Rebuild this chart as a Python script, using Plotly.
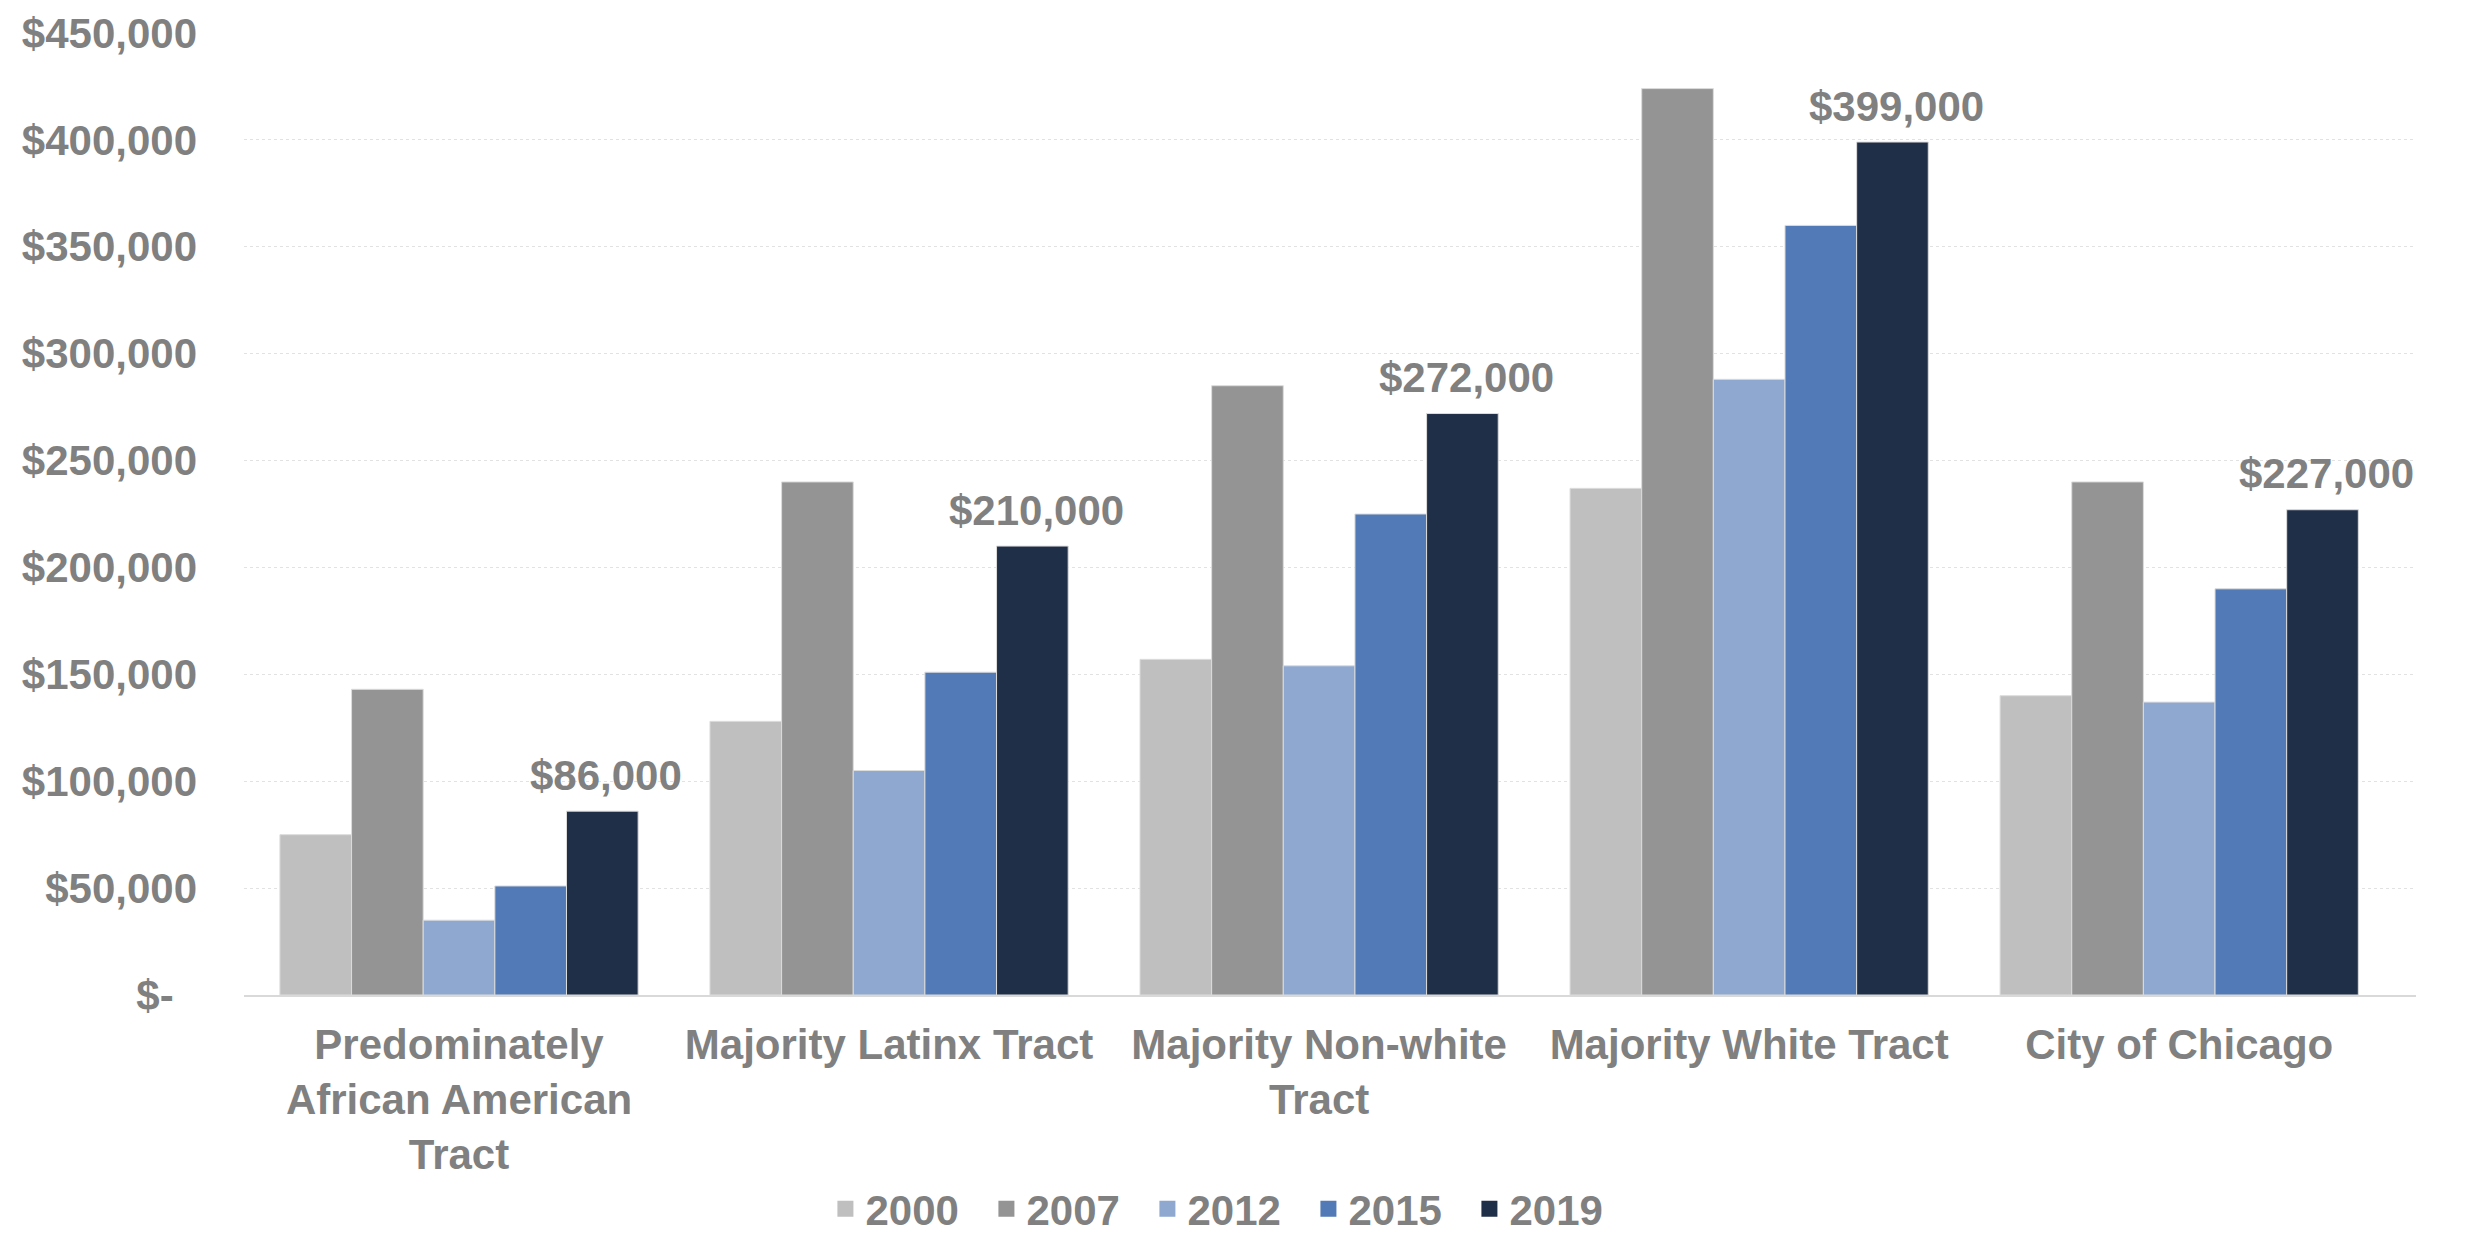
import plotly.graph_objects as go

# Median home values by tract type and year (USD)
categories = [
    "Predominately<br>African American<br>Tract",
    "Majority Latinx Tract",
    "Majority Non-white<br>Tract",
    "Majority White Tract",
    "City of Chicago",
]
years = ["2000", "2007", "2012", "2015", "2019"]
values_2000 = [75000, 128000, 157000, 237000, 140000]
values_2007 = [143000, 240000, 285000, 424000, 240000]
values_2012 = [35000, 105000, 154000, 288000, 137000]
values_2015 = [51000, 151000, 225000, 360000, 190000]
values_2019 = [86000, 210000, 272000, 399000, 227000]
series = [values_2000, values_2007, values_2012, values_2015, values_2019]
colors = ["#BFBFBF", "#949494", "#8EA8D0", "#527AB6", "#202F48"]

y_tickvals = [0, 50000, 100000, 150000, 200000, 250000, 300000, 350000, 400000, 450000]
y_ticktext = ["$-\u00a0\u00a0"] + [f"${v:,.0f}" for v in y_tickvals[1:]]

FONT = "Liberation Sans, Arial, sans-serif"
GRAY = "#808080"
BARGAP = 0.167
bold = dict(family=FONT, size=42, color=GRAY, weight="bold")

fig = go.Figure()
for name, vals, col in zip(years, series, colors):
    fig.add_trace(go.Bar(
        name=name,
        x=categories,
        y=vals,
        marker=dict(color=col, line=dict(color="#dcdcdc", width=1)),
        hoverinfo="y",
        showlegend=False,
        legendgroup=name,
    ))

# Legend entries with larger square swatches
for name, col in zip(years, colors):
    fig.add_trace(go.Scatter(
        name=name, x=[None], y=[None], mode="markers",
        marker=dict(symbol="square", size=20, color=col),
        legendgroup=name, showlegend=True, hoverinfo="skip",
    ))

# Value labels above the 2019 bars
n = len(series)
bar_w = (1 - BARGAP) / n
offset_2019 = -(1 - BARGAP) / 2 + bar_w * (n - 0.5)
annotations = []
for i, v in enumerate(values_2019):
    annotations.append(dict(
        x=i + offset_2019, y=v, xref="x", yref="y",
        text=f"${v:,.0f}", showarrow=False,
        xanchor="center", yanchor="middle", yshift=36, xshift=4,
        font=bold,
    ))

fig.update_layout(
    width=2468, height=1234, autosize=False,
    margin=dict(l=244, r=52, t=33, b=239, autoexpand=False),
    paper_bgcolor="white", plot_bgcolor="white",
    barmode="group", bargap=BARGAP, bargroupgap=0,
    font=bold,
    showlegend=True,
    legend=dict(
        orientation="h", x=0.453, xanchor="center", y=-0.187, yanchor="top",
        font=bold,
        entrywidth=116, entrywidthmode="pixels",
        traceorder="normal",
        itemsizing="trace",
    ),
    annotations=annotations,
)
fig.update_yaxes(
    range=[0, 450000], automargin=False,
    tickvals=y_tickvals, ticktext=y_ticktext,
    showgrid=True, gridcolor="#e2e2e2", gridwidth=1, griddash="dot",
    zeroline=False, showline=False, ticks="",
    ticklabelstandoff=46,
    tickfont=bold,
)
fig.update_xaxes(
    automargin=False,
    showline=True, linecolor="#d9d9d9", linewidth=2,
    showgrid=False, ticks="",
    ticklabelstandoff=12,
    tickfont=bold,
)

fig.write_html("out.html")
